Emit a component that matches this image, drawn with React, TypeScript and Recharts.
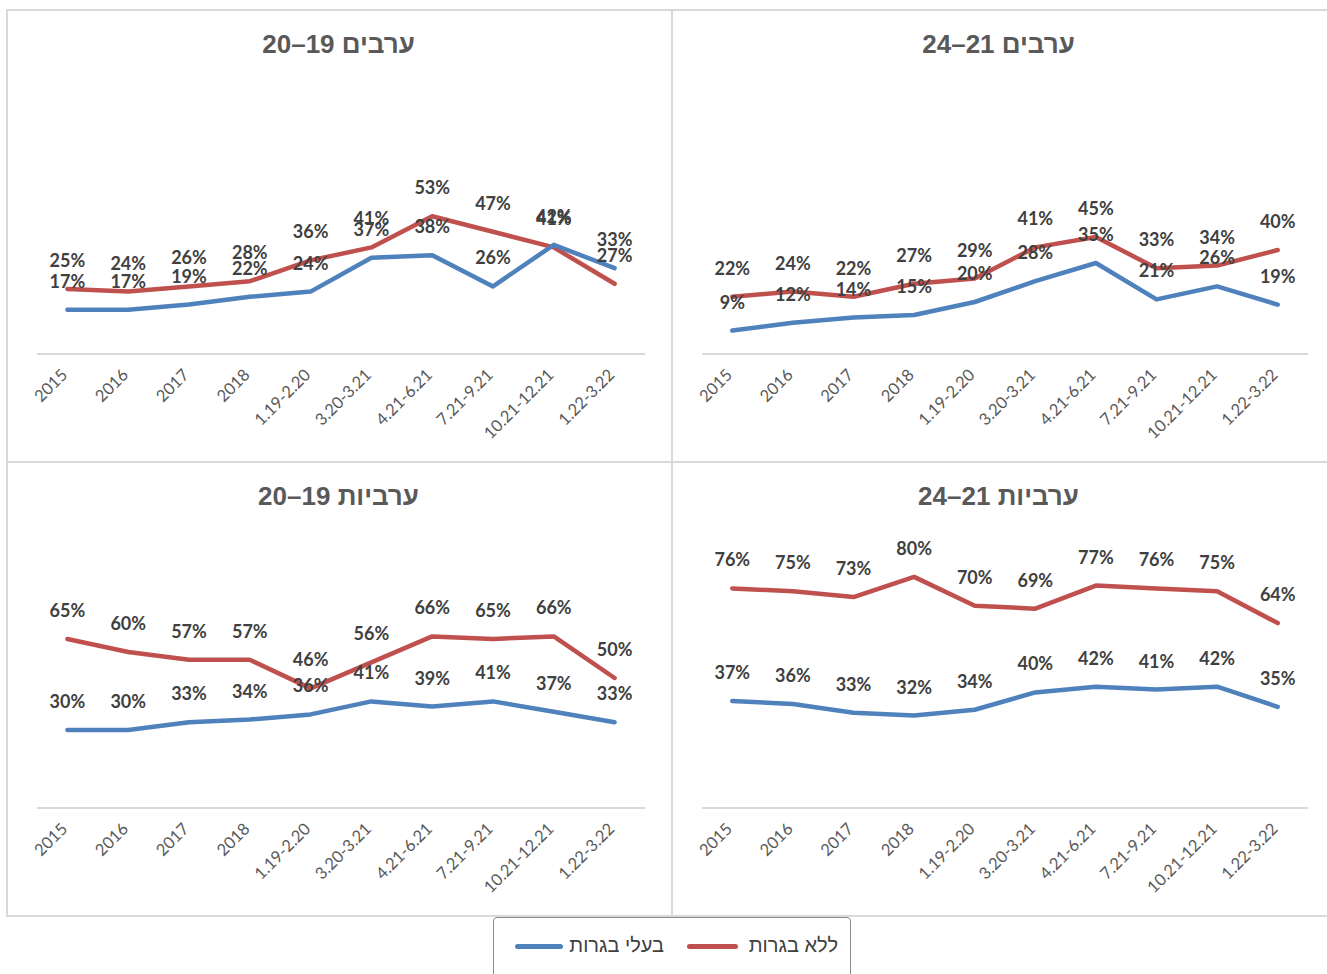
import React from 'react';
import { LineChart, Line, XAxis, YAxis, LabelList } from 'recharts';

const categories = ['2015', '2016', '2017', '2018', '1.19-2.20', '3.20-3.21', '4.21-6.21', '7.21-9.21', '10.21-12.21', '1.22-3.22'];

const seriesNames = { withCert: 'בעלי בגרות', noCert: 'ללא בגרות' };

// ערבים 19–20
const men1920WithCert = [17, 17, 19, 22, 24, 37, 38, 26, 42, 33];
const men1920NoCert = [25, 24, 26, 28, 36, 41, 53, 47, 41, 27];
// ערבים 21–24
const men2124WithCert = [9, 12, 14, 15, 20, 28, 35, 21, 26, 19];
const men2124NoCert = [22, 24, 22, 27, 29, 41, 45, 33, 34, 40];
// ערביות 19–20
const women1920WithCert = [30, 30, 33, 34, 36, 41, 39, 41, 37, 33];
const women1920NoCert = [65, 60, 57, 57, 46, 56, 66, 65, 66, 50];
// ערביות 21–24
const women2124WithCert = [37, 36, 33, 32, 34, 40, 42, 41, 42, 35];
const women2124NoCert = [76, 75, 73, 80, 70, 69, 77, 76, 75, 64];

const BLUE = '#4F81BD';
const RED = '#C0504D';
const BORDER = '#d9d9d9';
const FONT = 'Lato, "Liberation Sans", sans-serif';
const HEB = '"Liberation Sans", "DejaVu Sans", sans-serif';

const buildRows = (withCert: number[], noCert: number[]) =>
  categories.map((c, i) => ({ cat: c, withCert: withCert[i], noCert: noCert[i] }));

const Tick = (props: any) => {
  const { x, y, payload } = props;
  const ax = x + 1;
  const ay = y + 22;
  return (
    <text
      x={ax}
      y={ay}
      transform={`rotate(-45 ${ax} ${ay})`}
      textAnchor="end"
      fill="#595959"
      fontSize={16.5}
      fontFamily={FONT}
    >
      {payload.value}
    </text>
  );
};

type PanelProps = {
  title: string;
  withCert: number[];
  noCert: number[];
  yMax: number;
  left: number;
  top: number;
  width: number;
  height: number;
  margin: { top: number; right: number; bottom: number; left: number };
};

const Panel = ({ title, withCert, noCert, yMax, left, top, width, height, margin }: PanelProps) => {
  const data = buildRows(withCert, noCert);
  const plotW = width - margin.left - margin.right;
  const pad = plotW / categories.length / 2;
  const labelProps = {
    position: 'top' as const,
    offset: 22,
    fill: '#404040',
    fontSize: 18,
    fontWeight: 700,
    fontFamily: FONT,
    formatter: (v: any) => `${v}%`,
  };
  return (
    <div style={{ position: 'absolute', left, top, width, height }}>
      <div
        style={{
          position: 'absolute',
          left: 0,
          top: 18,
          width: width - 2,
          textAlign: 'center',
          fontFamily: HEB,
          fontWeight: 700,
          fontSize: 26,
          color: '#595959',
          direction: 'rtl',
          lineHeight: '32px',
        }}
      >
        {title}
      </div>
      <LineChart width={width} height={height} data={data} margin={margin}>
        <XAxis
          dataKey="cat"
          height={90}
          interval={0}
          padding={{ left: pad, right: pad }}
          tick={<Tick />}
          tickLine={false}
          tickSize={0}
          tickMargin={0}
          axisLine={{ stroke: BORDER, strokeWidth: 2 }}
        />
        <YAxis hide domain={[0, yMax]} />
        <Line
          type="linear"
          dataKey="noCert"
          name={seriesNames.noCert}
          stroke={RED}
          strokeWidth={4.5}
          strokeLinecap="round"
          strokeLinejoin="round"
          dot={false}
          activeDot={false}
          isAnimationActive={false}
        >
          <LabelList dataKey="noCert" {...labelProps} />
        </Line>
        <Line
          type="linear"
          dataKey="withCert"
          name={seriesNames.withCert}
          stroke={BLUE}
          strokeWidth={4.5}
          strokeLinecap="round"
          strokeLinejoin="round"
          dot={false}
          activeDot={false}
          isAnimationActive={false}
        >
          <LabelList dataKey="withCert" {...labelProps} />
        </Line>
      </LineChart>
    </div>
  );
};

const Rule = ({ left, top, width, height }: { left: number; top: number; width: number; height: number }) => (
  <div style={{ position: 'absolute', left, top, width, height, background: BORDER }} />
);

export default function App() {
  return (
    <div style={{ position: 'absolute', left: 0, top: 0, width: 1327, height: 974, background: '#fff', overflow: 'hidden' }}>
      {/* frame */}
      <Rule left={6} top={9} width={1321} height={2} />
      <Rule left={6} top={9} width={2} height={908} />
      <Rule left={6} top={915} width={1321} height={2} />
      <Rule left={671} top={9} width={2} height={908} />
      <Rule left={6} top={461} width={1321} height={2} />

      <Panel
        title="ערבים 19–20"
        withCert={men1920WithCert}
        noCert={men1920NoCert}
        yMax={100}
        left={7}
        top={10}
        width={665}
        height={452}
        margin={{ top: 84, right: 27, bottom: 18, left: 30 }}
      />
      <Panel
        title="ערבים 21–24"
        withCert={men2124WithCert}
        noCert={men2124NoCert}
        yMax={100}
        left={672}
        top={10}
        width={655}
        height={452}
        margin={{ top: 84, right: 19, bottom: 18, left: 30 }}
      />
      <Panel
        title="ערביות 19–20"
        withCert={women1920WithCert}
        noCert={women1920NoCert}
        yMax={100}
        left={7}
        top={462}
        width={665}
        height={454}
        margin={{ top: 86, right: 27, bottom: 18, left: 30 }}
      />
      <Panel
        title="ערביות 21–24"
        withCert={women2124WithCert}
        noCert={women2124NoCert}
        yMax={90}
        left={672}
        top={462}
        width={655}
        height={454}
        margin={{ top: 86, right: 19, bottom: 18, left: 30 }}
      />

      {/* legend */}
      <div
        style={{
          position: 'absolute',
          left: 493,
          top: 917,
          width: 356,
          height: 80,
          border: '1.5px solid #8c8c8c',
          borderRadius: 4,
          background: '#fff',
        }}
      >
        <div style={{ position: 'absolute', left: 21, top: 26, width: 48, height: 5, borderRadius: 3, background: BLUE }} />
        <div
          style={{
            position: 'absolute',
            left: 66,
            top: 13,
            width: 104,
            textAlign: 'right',
            fontFamily: HEB,
            fontSize: 20,
            color: '#404040',
            direction: 'rtl',
            lineHeight: '28px',
          }}
        >
          {seriesNames.withCert}
        </div>
        <div style={{ position: 'absolute', left: 193, top: 26, width: 51, height: 5, borderRadius: 3, background: RED }} />
        <div
          style={{
            position: 'absolute',
            left: 244,
            top: 13,
            width: 100,
            textAlign: 'right',
            fontFamily: HEB,
            fontSize: 20,
            color: '#404040',
            direction: 'rtl',
            lineHeight: '28px',
          }}
        >
          {seriesNames.noCert}
        </div>
      </div>
    </div>
  );
}
